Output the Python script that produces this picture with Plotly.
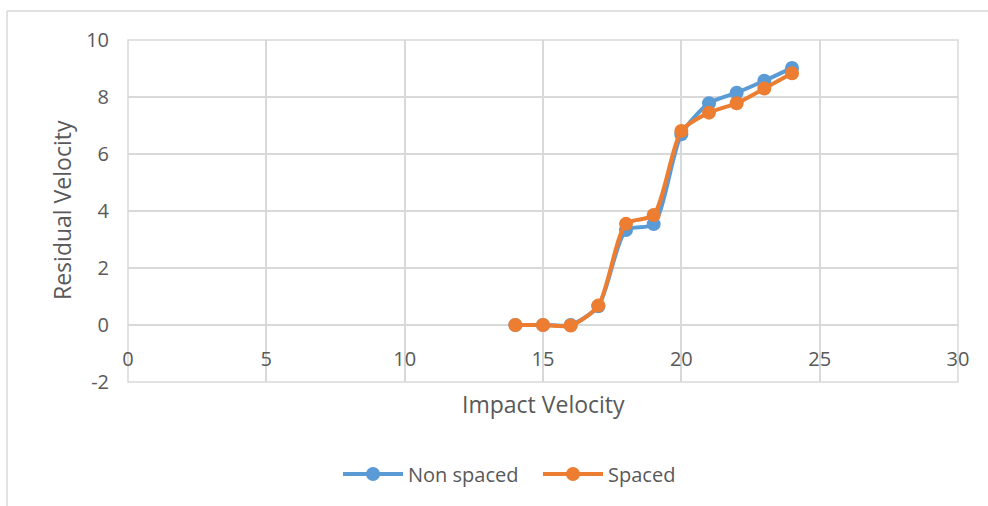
import plotly.graph_objects as go

impact_velocity = [14, 15, 16, 17, 18, 19, 20, 21, 22, 23, 24]
non_spaced = [0, 0, 0, 0.66, 3.33, 3.54, 6.69, 7.78, 8.15, 8.57, 9.02]
spaced = [0, 0, -0.02, 0.68, 3.55, 3.86, 6.81, 7.45, 7.78, 8.30, 8.83]

x_ticks = [0, 5, 10, 15, 20, 25, 30]
y_ticks = [-2, 0, 2, 4, 6, 8, 10]

BLUE = "#5B9BD5"
ORANGE = "#ED7D31"
TXT = "#595959"
GRID = "#D9D9D9"
FONT = "Open Sans"

fig = go.Figure()
fig.add_trace(go.Scatter(
    x=impact_velocity, y=non_spaced, name="Non spaced", mode="lines+markers",
    line=dict(color=BLUE, width=4, shape="spline", smoothing=0.7),
    marker=dict(color=BLUE, size=14)))
fig.add_trace(go.Scatter(
    x=impact_velocity, y=spaced, name="Spaced", mode="lines+markers",
    line=dict(color=ORANGE, width=4, shape="spline", smoothing=0.7),
    marker=dict(color=ORANGE, size=14)))

L, R, T, B = 128, 30, 40, 124
W, H = 988, 506
pw, ph = W - L - R, H - T - B

def px(xp):
    return (xp - L) / pw

def py(yp):
    return (H - B - yp) / ph

fig.update_layout(
    width=W, height=H,
    margin=dict(l=L, r=R, t=T, b=B),
    paper_bgcolor="white", plot_bgcolor="white",
    font=dict(family=FONT, color=TXT, size=20),
    showlegend=True,
    legend=dict(orientation="h", x=px(338), xanchor="left", y=py(474), yanchor="middle",
                font=dict(size=20, color=TXT), itemwidth=60, traceorder="normal",
                entrywidth=125, entrywidthmode="pixels",
                bgcolor="rgba(0,0,0,0)"),
    xaxis=dict(range=[0, 30], tickvals=x_ticks, ticktext=[str(v) for v in x_ticks],
               showgrid=True, gridcolor=GRID, gridwidth=1.5, zeroline=False,
               showline=False, anchor="free", position=2 / 12,
               ticks="", ticklabelstandoff=20, tickfont=dict(size=20, color=TXT)),
    yaxis=dict(range=[-2, 10], tickvals=y_ticks, ticktext=[str(v) for v in y_ticks],
               showgrid=True, gridcolor=GRID, gridwidth=1.5, zeroline=False,
               showline=False, ticks="", ticklabelstandoff=18,
               tickfont=dict(size=20, color=TXT)),
    annotations=[
        dict(text="Impact Velocity", x=0.5, y=py(404), xref="paper", yref="paper",
             showarrow=False, font=dict(size=23, color=TXT), xanchor="center", yanchor="middle"),
        dict(text="Residual Velocity", x=px(62), y=py(210), xref="paper", yref="paper",
             showarrow=False, textangle=-90, font=dict(size=23, color=TXT),
             xanchor="center", yanchor="middle"),
    ],
    shapes=[
        dict(type="rect", xref="paper", yref="paper", x0=0, x1=1, y0=0, y1=1,
             line=dict(color=GRID, width=1.5), layer="below"),
        dict(type="line", xref="paper", yref="paper", x0=px(7), x1=px(990), y0=py(11), y1=py(11),
             line=dict(color=GRID, width=1.5)),
        dict(type="line", xref="paper", yref="paper", x0=px(7), x1=px(7), y0=py(11), y1=py(510),
             line=dict(color=GRID, width=1.5)),
    ],
)

fig.write_html("out.html")
